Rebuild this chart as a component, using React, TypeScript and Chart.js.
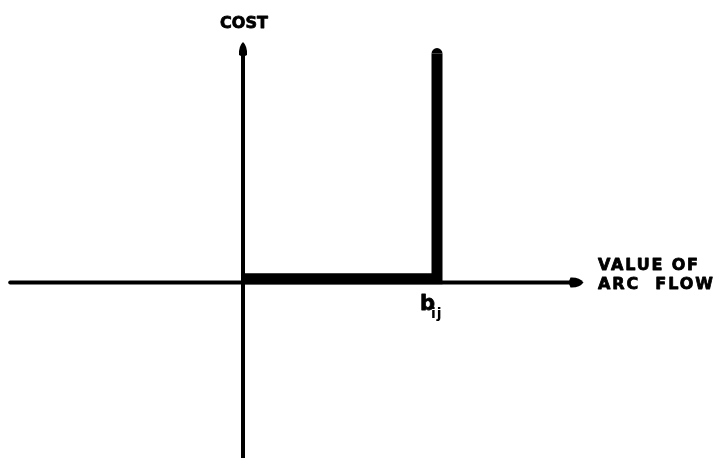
import React, { useEffect, useRef } from "react";
import { Chart, registerables } from "chart.js";

Chart.register(...registerables);

// Cost function of an arc: zero cost up to capacity b_ij, then infinite
const flowValues = [0, 1, 1];
const costValues = [0.02, 0.02, 1.18];

// Axis extents (data units)
const xAxisRange = [-1.2, 1.755];
const yAxisRange = [-0.91, 1.24];

// Visible window (data units)
const xScaleRange = [-1.2526, 2.4278];
const yScaleRange = [-0.9046, 1.4562];

const costLabel = "COST";
const flowLabelLines = ["VALUE OF", "ARC  FLOW"];
const capacityLabel = "b";
const capacitySub = "ij";
const capacityValue = 1;

const FONT = '"DejaVu Sans", "Liberation Sans", sans-serif';

function drawSpaced(ctx: CanvasRenderingContext2D, text: string, x: number, y: number, width: number) {
  (ctx as any).letterSpacing = "0px";
  const w = ctx.measureText(text).width;
  const n = text.length;
  const sp = n > 1 ? (width - w) / (n - 1) : 0;
  (ctx as any).letterSpacing = sp + "px";
  ctx.textAlign = "left";
  ctx.strokeText(text, x, y);
  ctx.fillText(text, x, y);
  (ctx as any).letterSpacing = "0px";
}

const annotations = {
  id: "annotations",
  afterDatasetsDraw(chart: any) {
    const ctx: CanvasRenderingContext2D = chart.ctx;
    const xs = chart.scales.x;
    const ys = chart.scales.y;
    const ox = xs.getPixelForValue(0);
    const oy = ys.getPixelForValue(0);
    ctx.save();
    ctx.fillStyle = "#000";
    ctx.strokeStyle = "#000";
    ctx.lineWidth = 0.8;
    ctx.lineJoin = "round";

    // arrowhead on x axis
    const tipX = xs.getPixelForValue(xAxisRange[1]);
    ctx.beginPath();
    ctx.moveTo(tipX, oy);
    ctx.quadraticCurveTo(tipX - 4, oy - 5.5, tipX - 13, oy - 5);
    ctx.lineTo(tipX - 15, oy);
    ctx.lineTo(tipX - 13, oy + 5);
    ctx.quadraticCurveTo(tipX - 4, oy + 5.5, tipX, oy);
    ctx.fill();

    // arrowhead on y axis
    const tipY = ys.getPixelForValue(yAxisRange[1]);
    ctx.beginPath();
    ctx.moveTo(ox, tipY);
    ctx.quadraticCurveTo(ox - 4.5, tipY + 4, ox - 4, tipY + 13);
    ctx.lineTo(ox, tipY + 15);
    ctx.lineTo(ox + 4, tipY + 13);
    ctx.quadraticCurveTo(ox + 4.5, tipY + 4, ox, tipY);
    ctx.fill();

    // rounded top of the infinite-cost bar
    const bx = xs.getPixelForValue(capacityValue);
    const by = ys.getPixelForValue(costValues[costValues.length - 1]);
    ctx.beginPath();
    ctx.arc(bx, by, 5.5, Math.PI, 0);
    ctx.fill();

    ctx.textBaseline = "middle";
    // COST
    ctx.font = "bold 16px " + FONT;
    drawSpaced(ctx, costLabel, ox - 23, 24, 48);

    // VALUE OF / ARC FLOW
    ctx.font = "bold 16px " + FONT;
    drawSpaced(ctx, flowLabelLines[0], 598, 265.5, 100);
    drawSpaced(ctx, flowLabelLines[1], 598, 284.5, 115);

    // b_ij
    ctx.textAlign = "left";
    ctx.textBaseline = "alphabetic";
    ctx.font = "bold 21px " + FONT;
    ctx.strokeText(capacityLabel, bx - 17, 310);
    ctx.fillText(capacityLabel, bx - 17, 310);
    ctx.font = "bold 14px " + FONT;
    (ctx as any).letterSpacing = "1px";
    ctx.fillText(capacitySub, bx - 6, 318);
    (ctx as any).letterSpacing = "0px";
    ctx.restore();
  },
};

export default function App() {
  const ref = useRef<HTMLCanvasElement>(null);
  useEffect(() => {
    if (!ref.current) return;
    const chart = new Chart(ref.current, {
      type: "scatter",
      data: {
        datasets: [
          {
            label: "flow axis",
            data: [
              { x: xAxisRange[0], y: 0 },
              { x: xAxisRange[1] - 0.05, y: 0 },
            ],
            showLine: true,
            borderColor: "#000",
            borderWidth: 4,
            pointRadius: 0,
            borderCapStyle: "round",
          },
          {
            label: "cost axis",
            data: [
              { x: 0, y: yAxisRange[0] },
              { x: 0, y: yAxisRange[1] - 0.05 },
            ],
            showLine: true,
            borderColor: "#000",
            borderWidth: 4,
            pointRadius: 0,
          },
          {
            label: "cost",
            data: flowValues.map((f, i) => ({ x: f, y: costValues[i] })),
            showLine: true,
            borderColor: "#000",
            borderWidth: 11,
            pointRadius: 0,
            borderJoinStyle: "miter",
            borderCapStyle: "butt",
          },
        ],
      },
      options: {
        responsive: false,
        animation: false,
        layout: { padding: 0 },
        plugins: { legend: { display: false }, tooltip: { enabled: false } },
        scales: {
          x: { type: "linear", display: false, min: xScaleRange[0], max: xScaleRange[1] },
          y: { type: "linear", display: false, min: yScaleRange[0], max: yScaleRange[1] },
        },
      },
      plugins: [annotations],
    });
    return () => chart.destroy();
  }, []);
  return (
    <div style={{ position: "fixed", left: 0, top: 0, width: 714, height: 458, background: "#fff" }}>
      <canvas ref={ref} width={714} height={458} style={{ display: "block" }} />
    </div>
  );
}
